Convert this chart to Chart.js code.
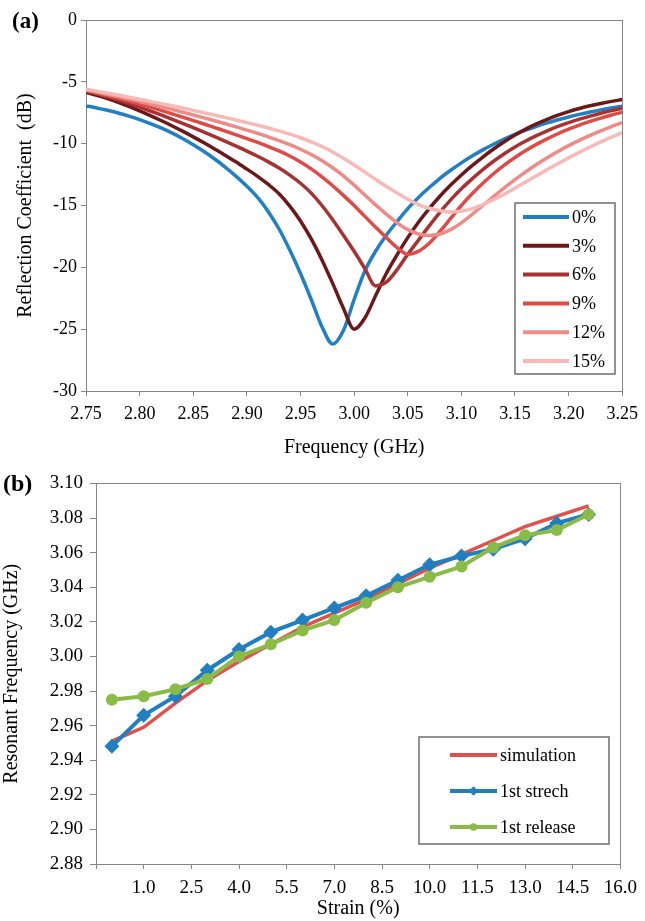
<!DOCTYPE html>
<html>
<head>
<meta charset="utf-8">
<script src="https://cdn.jsdelivr.net/npm/chart.js@4.4.1/dist/chart.umd.min.js"></script>
<style>
    html, body { margin: 0; padding: 0; background: #fff; }
    #wrap { position: relative; width: 645px; height: 921px; }
    #chartA { position: absolute; left: 0; top: 0; }
    #chartB { position: absolute; left: 0; top: 465px; }
</style>
</head>
<body>
<div id="wrap">
    <canvas id="chartA" width="645" height="465"></canvas>
    <canvas id="chartB" width="645" height="456"></canvas>
</div>
<script>
// ---- (a) reflection coefficient vs frequency ----
var freqGHz = [2.75, 2.76, 2.77, 2.78, 2.79, 2.80, 2.81, 2.82, 2.83, 2.84, 2.85, 2.86, 2.87, 2.88, 2.89,
               2.90, 2.91, 2.92, 2.93, 2.94, 2.95, 2.96, 2.97, 2.98, 2.99, 3.00, 3.01, 3.02, 3.03, 3.04,
               3.05, 3.06, 3.07, 3.08, 3.09, 3.10, 3.11, 3.12, 3.13, 3.14, 3.15, 3.16, 3.17, 3.18, 3.19,
               3.20, 3.21, 3.22, 3.23, 3.24, 3.25];
var strainLabels = ['0%', '3%', '6%', '9%', '12%', '15%'];
var rc0  = [-6.95, -7.11, -7.30, -7.52, -7.77, -8.05, -8.37, -8.73, -9.13, -9.58, -10.08, -10.63, -11.24, -11.91, -12.64,
            -13.44, -14.35, -15.50, -16.90, -18.60, -20.50, -22.60, -24.80, -26.20, -25.10, -22.60, -20.30, -18.70, -17.40, -16.30,
            -15.25, -14.35, -13.55, -12.80, -12.15, -11.55, -11.00, -10.50, -10.05, -9.63, -9.25, -8.90, -8.60, -8.32, -8.07,
            -7.84, -7.63, -7.44, -7.27, -7.11, -6.97];
var rc3  = [-5.85, -6.09, -6.36, -6.66, -6.99, -7.35, -7.73, -8.13, -8.55, -8.99, -9.45, -9.93, -10.43, -10.95, -11.49,
            -12.06, -12.64, -13.30, -14.05, -15.05, -16.25, -17.70, -19.40, -21.30, -23.30, -25.00, -24.10, -22.30, -20.50, -19.00,
            -17.60, -16.35, -15.25, -14.25, -13.35, -12.53, -11.78, -11.08, -10.43, -9.84, -9.30, -8.82, -8.40, -8.03, -7.70,
            -7.41, -7.16, -6.94, -6.75, -6.58, -6.43];
var rc6  = [-5.75, -5.97, -6.21, -6.47, -6.75, -7.05, -7.36, -7.68, -8.01, -8.35, -8.70, -9.06, -9.43, -9.81, -10.20,
            -10.60, -11.02, -11.47, -11.97, -12.54, -13.20, -14.00, -15.00, -16.15, -17.40, -18.70, -20.10, -21.50, -21.20, -20.20,
            -18.95, -17.80, -16.65, -15.55, -14.55, -13.65, -12.85, -12.10, -11.42, -10.81, -10.26, -9.78, -9.35, -8.96, -8.61,
            -8.30, -8.02, -7.77, -7.54, -7.33, -7.14];
var rc9  = [-5.70, -5.90, -6.11, -6.33, -6.56, -6.80, -7.05, -7.31, -7.58, -7.85, -8.13, -8.41, -8.70, -8.99, -9.29,
            -9.59, -9.90, -10.23, -10.59, -11.00, -11.48, -12.04, -12.68, -13.40, -14.18, -15.00, -15.88, -16.75, -17.60, -18.40,
            -18.95, -18.70, -18.05, -17.10, -16.05, -15.00, -14.05, -13.20, -12.43, -11.74, -11.12, -10.56, -10.06, -9.61, -9.20,
            -8.83, -8.50, -8.20, -7.93, -7.68, -7.45];
var rc12 = [-5.65, -5.82, -6.00, -6.19, -6.39, -6.59, -6.80, -7.01, -7.23, -7.45, -7.68, -7.91, -8.15, -8.39, -8.64,
            -8.90, -9.17, -9.45, -9.75, -10.08, -10.45, -10.88, -11.38, -11.95, -12.60, -13.35, -14.15, -14.95, -15.70, -16.40,
            -16.95, -17.30, -17.42, -17.30, -16.95, -16.40, -15.72, -15.00, -14.28, -13.58, -12.91, -12.28, -11.69, -11.14, -10.63,
            -10.16, -9.73, -9.33, -8.96, -8.62, -8.30];
var rc15 = [-5.60, -5.75, -5.91, -6.07, -6.24, -6.41, -6.58, -6.76, -6.94, -7.12, -7.31, -7.50, -7.69, -7.89, -8.09,
            -8.30, -8.51, -8.73, -8.97, -9.23, -9.52, -9.85, -10.23, -10.67, -11.17, -11.72, -12.30, -12.89, -13.46, -13.98,
            -14.50, -14.92, -15.22, -15.42, -15.52, -15.45, -15.25, -14.93, -14.53, -14.08, -13.60, -13.10, -12.60, -12.10, -11.62,
            -11.15, -10.70, -10.27, -9.86, -9.47, -9.10];

// ---- (b) resonant frequency vs strain ----
var strainPct  = [0, 1, 2, 3, 4, 5, 6, 7, 8, 9, 10, 11, 12, 13, 14, 15];
var simulation = [2.951, 2.959, 2.973, 2.986, 2.997, 3.007, 3.017, 3.025, 3.033, 3.042, 3.051, 3.059, 3.067, 3.075, 3.081, 3.087];
var stretch1   = [2.948, 2.966, 2.977, 2.992, 3.004, 3.014, 3.021, 3.028, 3.035, 3.044, 3.053, 3.058, 3.062, 3.068, 3.077, 3.082];
var release1   = [2.975, 2.977, 2.981, 2.987, 3.000, 3.007, 3.015, 3.021, 3.031, 3.040, 3.046, 3.052, 3.063, 3.070, 3.073, 3.082];
var seriesNamesB = ['simulation', '1st strech', '1st release'];

var SERIF = "'Liberation Serif', 'Times New Roman', serif";
var AXIS_GREY = '#868686';

function pairs(xs, ys) {
    return xs.map(function(x, i) { return { x: x, y: ys[i] }; });
}

// box around the plot area (Excel style frame)
var frameBox = {
    id: 'frameBox',
    beforeDatasetsDraw: function(chart) {
        var a = chart.chartArea, ctx = chart.ctx;
        ctx.save();
        ctx.strokeStyle = AXIS_GREY;
        ctx.lineWidth = 1;
        ctx.strokeRect(Math.round(a.left) + 0.5, Math.round(a.top) + 0.5,
                       Math.round(a.right - a.left), Math.round(a.bottom - a.top));
        ctx.restore();
    }
};

// legend drawn inside the plot, in a framed box
var boxLegend = {
    id: 'boxLegend',
    afterDraw: function(chart, args, o) {
        var ctx = chart.ctx;
        ctx.save();
        ctx.fillStyle = '#fff';
        ctx.fillRect(o.x, o.y, o.w, o.h);
        ctx.strokeStyle = '#6e6e6e';
        ctx.lineWidth = 1.5;
        ctx.strokeRect(o.x, o.y, o.w, o.h);
        chart.data.datasets.forEach(function(ds, i) {
            var y = o.firstRow + i * o.rowGap;
            ctx.strokeStyle = ds.borderColor;
            ctx.lineWidth = o.lineWidth;
            ctx.beginPath();
            ctx.moveTo(o.lineX, y);
            ctx.lineTo(o.lineX + o.lineLen, y);
            ctx.stroke();
            var mx = o.lineX + o.lineLen / 2;
            if (ds.pointRadius > 0) {
                ctx.fillStyle = ds.pointBackgroundColor;
                ctx.beginPath();
                if (ds.pointStyle === 'rectRot') {
                    var r = o.markerSize + 1;
                    ctx.moveTo(mx - r, y); ctx.lineTo(mx, y - r);
                    ctx.lineTo(mx + r, y); ctx.lineTo(mx, y + r);
                    ctx.closePath();
                } else {
                    ctx.arc(mx, y, o.markerSize, 0, Math.PI * 2);
                }
                ctx.fill();
            }
            ctx.fillStyle = '#000';
            ctx.font = o.fontSize + 'px ' + SERIF;
            ctx.textBaseline = 'middle';
            ctx.textAlign = 'left';
            ctx.fillText(ds.label, o.textX, y + 1);
        });
        ctx.restore();
    }
};

var panelLabel = {
    id: 'panelLabel',
    afterDraw: function(chart, args, o) {
        var ctx = chart.ctx;
        ctx.save();
        ctx.fillStyle = '#000';
        ctx.font = 'bold ' + o.size + 'px ' + SERIF;
        ctx.textBaseline = 'middle';
        ctx.fillText(o.text, o.x, o.y);
        ctx.restore();
    }
};

function tickFont(size) { return { family: SERIF, size: size }; }

// ---------- chart (a) ----------
var coloursA = ['#2080c3', '#6d1818', '#a83232', '#df4b46', '#ee8b87', '#f7bab7'];
var valuesA = [rc0, rc3, rc6, rc9, rc12, rc15];

var datasetsA = valuesA.map(function(vals, i) {
    return {
        label: strainLabels[i],
        data: pairs(freqGHz, vals),
        borderColor: coloursA[i],
        borderWidth: 3.5,
        pointRadius: 0,
        cubicInterpolationMode: 'monotone',
        order: valuesA.length - i
    };
});

new Chart(document.getElementById('chartA'), {
    type: 'line',
    data: { datasets: datasetsA },
    plugins: [frameBox, boxLegend, panelLabel],
    options: {
        responsive: false,
        animation: false,
        layout: { padding: { left: 0, right: 15, top: 20, bottom: 0 } },
        plugins: {
            legend: { display: false },
            tooltip: { enabled: false },
            boxLegend: { x: 515, y: 203, w: 100, h: 171, firstRow: 217, rowGap: 28.8,
                         lineX: 523, lineLen: 46, lineWidth: 4, textX: 572, fontSize: 18 },
            panelLabel: { text: '(a)', x: 12, y: 22, size: 23 }
        },
        scales: {
            x: {
                type: 'linear', min: 2.75, max: 3.25,
                ticks: { stepSize: 0.05, color: '#000', font: tickFont(18), padding: 7, maxRotation: 0, autoSkip: false,
                         callback: function(v) { return v.toFixed(2); } },
                grid: { drawOnChartArea: false, color: AXIS_GREY, tickLength: 5 },
                border: { color: AXIS_GREY },
                title: { display: true, text: 'Frequency (GHz)', color: '#000', font: { family: SERIF, size: 20 },
                         padding: { top: 0, bottom: 5 } },
                afterFit: function(s) { s.height = 74; }
            },
            y: {
                min: -30, max: 0,
                ticks: { stepSize: 5, color: '#000', font: tickFont(18), padding: 4 },
                grid: { drawOnChartArea: false, color: AXIS_GREY, tickLength: 5 },
                border: { color: AXIS_GREY },
                title: { display: true, text: 'Reflection Coefficient  (dB)', color: '#000',
                         font: { family: SERIF, size: 20 }, padding: { top: 14, bottom: 0 } },
                afterFit: function(s) { s.width = 86; }
            }
        }
    }
});

// ---------- chart (b) ----------
var valuesB = [simulation, stretch1, release1];
var coloursB = ['#e0504c', '#1f7fc1', '#8bbb47'];
var markerB = [
    { style: 'circle', radius: 0, width: 3.5 },
    { style: 'rectRot', radius: 7.5, width: 4 },
    { style: 'circle', radius: 6, width: 4 }
];

var datasetsB = valuesB.map(function(vals, i) {
    return {
        label: seriesNamesB[i],
        data: pairs(strainPct, vals),
        borderColor: coloursB[i],
        backgroundColor: coloursB[i],
        pointBackgroundColor: coloursB[i],
        pointBorderColor: coloursB[i],
        pointBorderWidth: 0,
        borderWidth: markerB[i].width,
        pointStyle: markerB[i].style,
        pointRadius: markerB[i].radius,
        tension: 0,
        order: valuesB.length - i
    };
});

new Chart(document.getElementById('chartB'), {
    type: 'line',
    data: { datasets: datasetsB },
    plugins: [frameBox, boxLegend, panelLabel],
    options: {
        responsive: false,
        animation: false,
        layout: { padding: { left: 0, right: 18, top: 17, bottom: 0 } },
        plugins: {
            legend: { display: false },
            tooltip: { enabled: false },
            boxLegend: { x: 419, y: 272, w: 190, h: 107, firstRow: 290, rowGap: 36,
                         lineX: 450, lineLen: 47, lineWidth: 4, markerSize: 3.8, textX: 500, fontSize: 18 },
            panelLabel: { text: '(b)', x: 3, y: 20, size: 24 }
        },
        scales: {
            x: {
                type: 'linear', min: -0.5, max: 16,
                ticks: { stepSize: 1.5, color: '#000', font: tickFont(19), padding: 8, maxRotation: 0, autoSkip: false,
                         callback: function(v) { return v < 0 ? '' : v.toFixed(1); } },
                grid: { drawOnChartArea: false, color: AXIS_GREY, tickLength: 5 },
                border: { color: AXIS_GREY },
                title: { display: true, text: 'Strain (%)', color: '#000', font: { family: SERIF, size: 20 },
                         padding: { top: 0, bottom: 0 } },
                afterFit: function(s) { s.height = 57; }
            },
            y: {
                min: 2.88, max: 3.10,
                ticks: { stepSize: 0.02, color: '#000', font: tickFont(19), padding: 7,
                         callback: function(v) { return v.toFixed(2); } },
                grid: { drawOnChartArea: false, color: AXIS_GREY, tickLength: 6 },
                border: { color: AXIS_GREY },
                title: { display: true, text: 'Resonant Frequency (GHz)', color: '#000',
                         font: { family: SERIF, size: 20 }, padding: { top: 0, bottom: 0 } },
                afterFit: function(s) { s.width = 96; }
            }
        }
    }
});
</script>
</body>
</html>
